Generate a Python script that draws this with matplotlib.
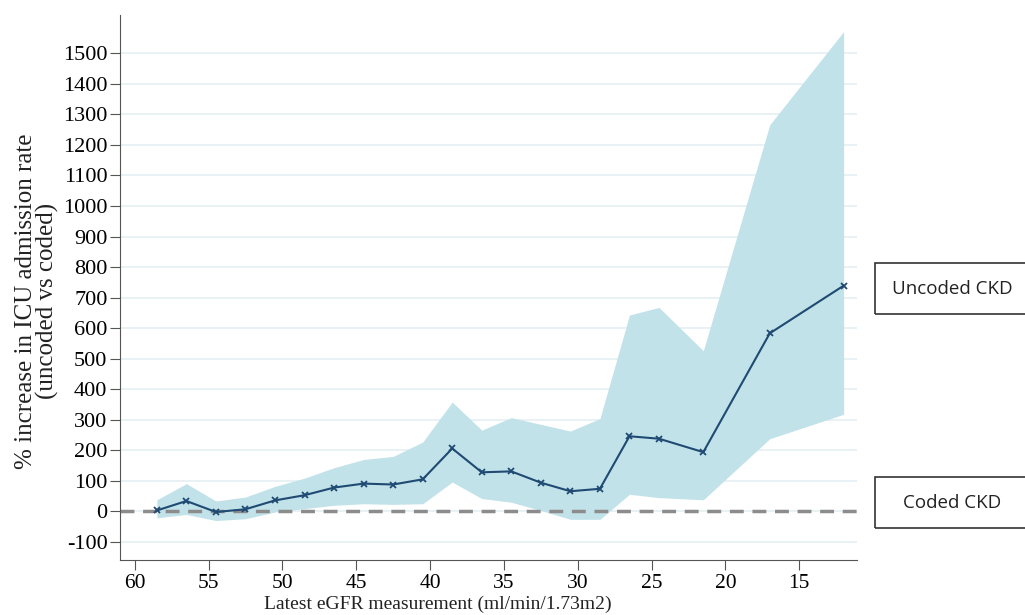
import matplotlib
matplotlib.use("Agg")
from matplotlib import pyplot as plt
from matplotlib.patches import Rectangle

# eGFR bins and % increase (uncoded vs coded) with CI
egfr = [58.5, 56.5, 54.5, 52.5, 50.5, 48.5, 46.5, 44.5, 42.5, 40.5,
        38.5, 36.5, 34.5, 32.5, 30.5, 28.5, 26.5, 24.5, 21.5, 17, 12]
pct = [3, 34, -2, 7, 36, 53, 78, 91, 88, 105,
       206, 128, 131, 94, 66, 74, 246, 238, 194, 583, 739]
upper = [38, 91, 34, 47, 82, 109, 143, 170, 180, 227,
         358, 266, 307, 285, 263, 304, 643, 668, 526, 1266, 1571]
lower = [-21, -10, -30, -24, -2, 9, 20, 25, 23, 25,
         96, 42, 30, 3, -26, -26, 56, 45, 38, 238, 318]

y_ticks = list(range(-100, 1501, 100))
x_ticks = [60, 55, 50, 45, 40, 35, 30, 25, 20, 15]

plt.rcParams['font.family'] = ['Liberation Serif', 'DejaVu Serif']
plt.rcParams['axes.unicode_minus'] = False

fig = plt.figure(figsize=(10.25, 6.15), dpi=100)
ax = fig.add_axes([0.117, 0.089, 0.719, 0.887])

for t in y_ticks:
    ax.axhline(t, color='#e4eff2', lw=1.2, zorder=0)

ax.fill_between(egfr, lower, upper, color='#c2e2ea', lw=0, zorder=1)
ax.axhline(0, color='#8c8c8c', lw=2.5, ls=(0, (4, 2.5)), zorder=2)
ax.plot(egfr, pct, color='#1f4a72', lw=1.5, marker='x', ms=5, mew=1.3, zorder=3)

ax.set_xlim(61.0, 11.1)
ax.set_ylim(-160, 1626)
ax.set_xticks(x_ticks)
ax.set_yticks(y_ticks)
ax.tick_params(axis='both', labelsize=16, direction='out', length=7,
               color='#555555', pad=2)
ax.tick_params(axis='x', labelsize=15.5, pad=3)
for s in ['top', 'right']:
    ax.spines[s].set_visible(False)
for s in ['left', 'bottom']:
    ax.spines[s].set_color('#555555')

# axis titles
fig.text(37 / 1025, 1 - 301 / 615, '% increase in ICU admission rate\n(uncoded vs coded)',
         rotation=90, ha='center', va='center', fontsize=18, linespacing=0.95,
         color='#222222')
fig.text(438 / 1025, 1 - 604 / 615, 'Latest eGFR measurement (ml/min/1.73m2)',
         ha='center', va='center', fontsize=14, color='#222222')

# right-hand labelled boxes
for label, y0 in [('Uncoded CKD', 1 - 314 / 615), ('Coded CKD', 1 - 528 / 615)]:
    fig.patches.append(Rectangle((875 / 1025, y0), 160 / 1025, 51 / 615,
                                 transform=fig.transFigure, fill=False,
                                 ec='#333333', lw=1.2))
    fig.text(952 / 1025, y0 + 25 / 615, label, ha='center', va='center',
             fontsize=13.5, family=['Open Sans', 'DejaVu Sans'], color='#222222')

plt.savefig('out.png', dpi=100)
